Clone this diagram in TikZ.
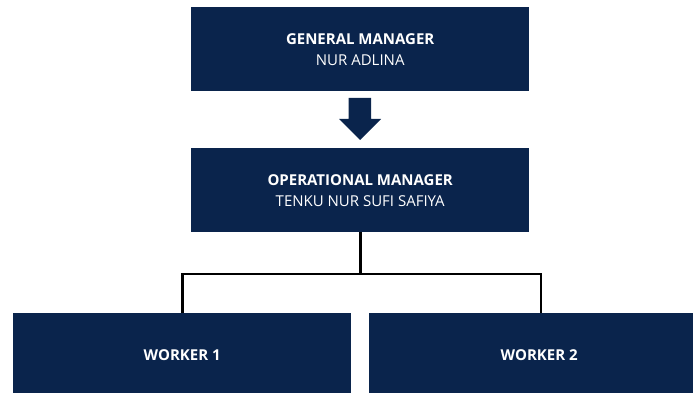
\documentclass[tikz,border=0pt]{standalone}
\usepackage{fontspec}
\setmainfont{Open Sans}
\definecolor{navy}{HTML}{0A244C}
\begin{document}
\begin{tikzpicture}[x=1pt,y=-1pt,
  box/.style={fill=navy,draw=none,minimum width=338pt,minimum height=84pt,inner sep=0pt,anchor=north west,text=white,align=center,font=\fontsize{15}{21}\selectfont},
  conn/.style={draw=black,line width=2.6pt}]
\useasboundingbox (0,0) rectangle (693,393);
\begin{scope}
\clip (0,0) rectangle (693,393);
\node[box] (gm) at (191,7) {\textbf{GENERAL MANAGER}\\NUR ADLINA};
\node[box] (om) at (191,148) {\textbf{OPERATIONAL MANAGER}\\TENKU NUR SUFI SAFIYA};
\node[box] (w1) at (13,313) {\textbf{WORKER 1}};
\node[box,minimum width=340pt] (w2) at (369,313) {\textbf{WORKER 2}};
\fill[navy] (348.5,98) -- (371,98) -- (371,119) -- (381,119) -- (360,140) -- (339,119) -- (348.5,119) -- cycle;
\coordinate (j) at (om.south |- 0,274);
\draw[conn] (om.south) -- (j);
\draw[conn] (w1.north) |- (j);
\draw[conn] (w2.north -| 541,0) |- (j);
\end{scope}
\end{tikzpicture}
\end{document}
